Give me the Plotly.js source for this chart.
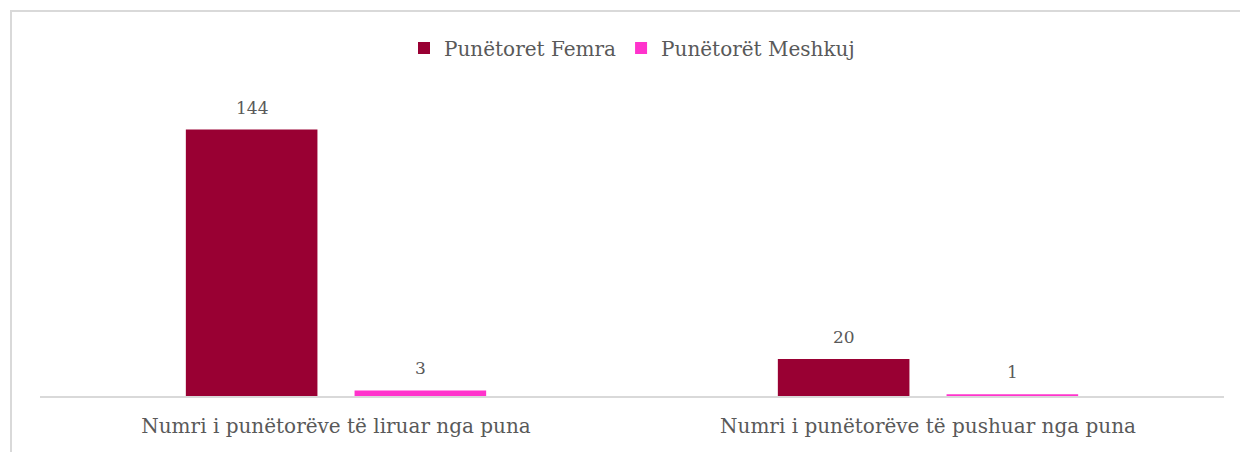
<!DOCTYPE html>
<html>
<head>
<meta charset="utf-8">
<script src="https://cdn.plot.ly/plotly-3.0.1.min.js"></script>
<style>
  html, body { margin: 0; padding: 0; background: #ffffff; overflow: hidden; }
  #frame { position: absolute; left: 10px; top: 10px; width: 1300px; height: 500px;
           border: 2px solid #D9D9D9; box-sizing: border-box; pointer-events: none; }
  #chart { position: absolute; left: 0; top: 0; width: 1240px; height: 452px; }
</style>
</head>
<body>
<div id="chart"></div>
<div id="frame"></div>
<script>
const categories = ["Numri i punëtorëve të liruar nga puna", "Numri i punëtorëve të pushuar nga puna"];
const seriesNames = ["Punëtoret Femra", "Punëtorët Meshkuj"];
const femraValues = [144, 20];
const meshkujValues = [3, 1];

const colors = ["#990033", "#FF33CC"];
const fontFamily = "'DejaVu Serif', 'Liberation Serif', serif";
const textColor = "#595959";

const W = 1240, H = 452;
const margin = { l: 40, r: 16, t: 100, b: 56 };
const bargap = 0.43, bargroupgap = 0.22;

const traces = [
  { type: "bar", name: seriesNames[0], x: categories, y: femraValues,
    marker: { color: colors[0] }, hoverinfo: "none" },
  { type: "bar", name: seriesNames[1], x: categories, y: meshkujValues,
    marker: { color: colors[1] }, hoverinfo: "none" }
];

// data labels positioned at each bar's slot centre (derived from bar layout)
const plotW = W - margin.l - margin.r;
const catW = plotW / categories.length;
const slotW = catW * (1 - bargap) / traces.length;
const annotations = [];
traces.forEach((t, ti) => {
  const off = (ti - (traces.length - 1) / 2) * slotW;
  t.y.forEach((v, i) => {
    annotations.push({
      x: t.x[i], y: v, xref: "x", yref: "y", text: String(v), showarrow: false,
      xshift: off, yshift: 22, yanchor: "middle",
      font: { family: fontFamily, size: 17, color: textColor }
    });
  });
});

const layout = {
  width: W, height: H,
  margin: margin,
  paper_bgcolor: "rgba(0,0,0,0)",
  plot_bgcolor: "rgba(0,0,0,0)",
  barmode: "group",
  bargap: bargap,
  bargroupgap: bargroupgap,
  showlegend: true,
  legend: {
    orientation: "h", x: 0.5, xanchor: "center", y: 1.176, yanchor: "middle",
    font: { family: fontFamily, size: 20, color: textColor },
    itemwidth: 30, traceorder: "normal"
  },
  xaxis: {
    type: "category",
    showline: true, linecolor: "#D9D9D9", linewidth: 2,
    ticks: "", showgrid: false, zeroline: false,
    tickfont: { family: fontFamily, size: 20, color: textColor },
    ticklabelstandoff: 11
  },
  yaxis: {
    range: [0, 160], visible: false, showgrid: false, zeroline: false, fixedrange: true
  },
  annotations: annotations
};

Plotly.newPlot("chart", traces, layout, { displayModeBar: false, staticPlot: true });
</script>
</body>
</html>
